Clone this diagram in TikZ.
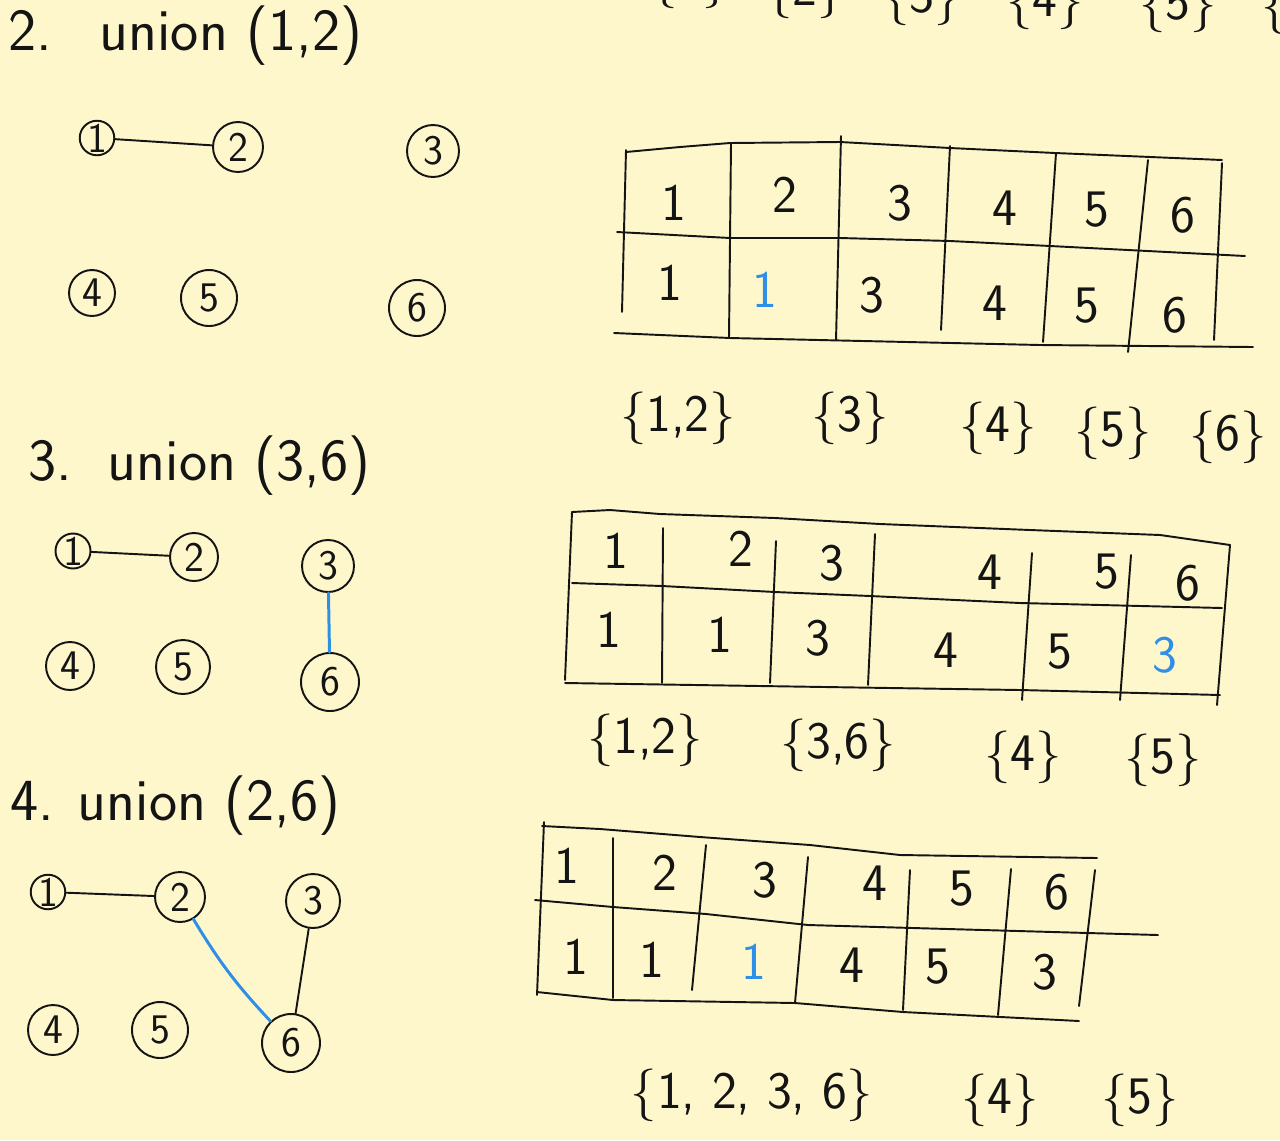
\documentclass[tikz,border=0pt]{standalone}
\usepackage{fontspec}
\definecolor{paper}{HTML}{FFF7CC}
\definecolor{penblue}{HTML}{2F8FE6}
\definecolor{pen}{HTML}{141414}
\begin{document}
\begin{tikzpicture}[x=0.02cm,y=-0.02cm,
  ink/.style={line width=1.1pt, draw=pen, line cap=round, line join=round},
  blueink/.style={line width=1.7pt, draw=penblue, line cap=round},
  vtx/.style={circle, draw=pen, line width=1.1pt, inner sep=0pt, text=pen, font=\sffamily\fontsize{24}{24}\selectfont},
  titletext/.style={anchor=base west, inner sep=0pt, text=pen, font=\sffamily\fontsize{34}{34}\selectfont},
  cell/.style={inner sep=0pt, text=pen, font=\sffamily\fontsize{30}{30}\selectfont},
  setlbl/.style={inner sep=0pt, text=pen, font=\sffamily\fontsize{30}{30}\selectfont}]
\fill[paper] (0,0) rectangle (1280,1140);
\useasboundingbox (0,0) rectangle (1280,1140);

% ---------- cut-off row at the top ----------
\node[setlbl] (t1) at (690,-18) {\{1\}};
\node[setlbl] (t2) at (805,-8) {\{2\}};
\node[setlbl] (t3) at (922,-1) {\{3\}};
\node[setlbl] (t4) at (1045,3) {\{4\}};
\node[setlbl] (t5) at (1178,6) {\{5\}};
\node[setlbl] (t6) at (1300,8) {\{6\}};

% ---------- step 2 ----------
\node[titletext] (title2) at (8,50) {2.\hspace{0.8em}union (1,2)};
\node[vtx, minimum size=0.66cm] (a1) at (97,138) {1};
\node[vtx, minimum size=1.0cm] (a2) at (238,147) {2};
\node[vtx, minimum size=1.04cm] (a3) at (433,151) {3};
\node[vtx, minimum size=0.92cm] (a4) at (92,293) {4};
\node[vtx, minimum size=1.12cm] (a5) at (209,298) {5};
\node[vtx, minimum size=1.12cm] (a6) at (417,308) {6};
\draw[ink] (a1) -- (a2);

% table 1
\draw[ink] (626,152) -- (680,147) -- (730,143) -- (840,142) -- (950,148) -- (1055,153) -- (1222,160);
\draw[ink] (617,232) -- (730,238) -- (840,238) -- (950,241) -- (1050,246) -- (1245,256);
\draw[ink] (614,333) -- (730,338) -- (1040,345) -- (1253,347);
\draw[ink] (626,150) -- (622,312);
\draw[ink] (731,143) -- (729,338);
\draw[ink] (841,136) -- (836,340);
\draw[ink] (950,146) -- (941,330);
\draw[ink] (1056,153) -- (1043,342);
\draw[ink] (1148,160) -- (1128,352);
\draw[ink] (1222,163) -- (1214,340);
\node[cell] (p1a) at (674,203) {1};
\node[cell] (p1b) at (785,195) {2};
\node[cell] (p1c) at (900,203) {3};
\node[cell] (p1d) at (1005,208) {4};
\node[cell] (p1e) at (1097,210) {5};
\node[cell] (p1f) at (1183,215) {6};
\node[cell] (q1a) at (670,283) {1};
\node[cell, text=penblue] (q1b) at (765,290) {1};
\node[cell] (q1c) at (872,295) {3};
\node[cell] (q1d) at (995,303) {4};
\node[cell] (q1e) at (1087,306) {5};
\node[cell] (q1f) at (1175,315) {6};
\node[setlbl] (s1a) at (678,418) {\{1,2\}};
\node[setlbl] (s1b) at (850,418) {\{3\}};
\node[setlbl] (s1c) at (998,428) {\{4\}};
\node[setlbl] (s1d) at (1113,433) {\{5\}};
\node[setlbl] (s1e) at (1228,437) {\{6\}};

% ---------- step 3 ----------
\node[titletext] (title3) at (28,480) {3.\hspace{0.6em}union (3,6)};
\node[vtx, minimum size=0.7cm] (b1) at (73,551) {1};
\node[vtx, minimum size=0.96cm] (b2) at (194,557) {2};
\node[vtx, minimum size=1.04cm] (b3) at (328,566) {3};
\node[vtx, minimum size=0.96cm] (b4) at (70,666) {4};
\node[vtx, minimum size=1.08cm] (b5) at (183,667) {5};
\node[vtx, minimum size=1.16cm] (b6) at (330,682) {6};
\draw[ink] (b1) -- (b2);
\draw[blueink] (b3) -- (b6);

% table 2
\draw[ink] (572,512) -- (610,510) -- (660,514) -- (775,518) -- (880,524) -- (1030,530) -- (1160,535) -- (1230,545);
\draw[ink] (572,583) -- (662,586) -- (775,592) -- (870,596) -- (1020,603) -- (1222,608);
\draw[ink] (565,683) -- (1020,690) -- (1220,695);
\draw[ink] (572,512) -- (565,680);
\draw[ink] (663,528) -- (662,683);
\draw[ink] (776,541) -- (770,683);
\draw[ink] (875,534) -- (868,685);
\draw[ink] (1032,553) -- (1022,700);
\draw[ink] (1131,555) -- (1120,700);
\draw[ink] (1230,545) -- (1217,705);
\node[cell] (p2a) at (616,551) {1};
\node[cell] (p2b) at (741,549) {2};
\node[cell] (p2c) at (832,563) {3};
\node[cell] (p2d) at (990,572) {4};
\node[cell] (p2e) at (1107,572) {5};
\node[cell] (p2f) at (1188,583) {6};
\node[cell] (q2a) at (609,630) {1};
\node[cell] (q2b) at (720,635) {1};
\node[cell] (q2c) at (818,638) {3};
\node[cell] (q2d) at (946,650) {4};
\node[cell] (q2e) at (1060,652) {5};
\node[cell, text=penblue] (q2f) at (1165,655) {3};
\node[setlbl] (s2a) at (645,740) {\{1,2\}};
\node[setlbl] (s2b) at (838,745) {\{3,6\}};
\node[setlbl] (s2c) at (1023,757) {\{4\}};
\node[setlbl] (s2d) at (1163,760) {\{5\}};

% ---------- step 4 ----------
\node[titletext] (title4) at (10,820) {4.\hspace{0.4em}union (2,6)};
\node[vtx, minimum size=0.68cm] (c1) at (48,892) {1};
\node[vtx, minimum size=1.0cm] (c2) at (180,897) {2};
\node[vtx, minimum size=1.08cm] (c3) at (313,901) {3};
\node[vtx, minimum size=1.0cm] (c4) at (53,1030) {4};
\node[vtx, minimum size=1.12cm] (c5) at (160,1030) {5};
\node[vtx, minimum size=1.16cm] (c6) at (291,1043) {6};
\draw[ink] (c1) -- (c2);
\draw[ink] (c3) -- (c6);
\draw[blueink] (c2) to[bend right=6] (c6);

% table 3
\draw[ink] (542,826) -- (600,829) -- (700,837) -- (810,845) -- (900,855) -- (1097,858);
\draw[ink] (535,900) -- (613,907) -- (706,914) -- (808,925) -- (1158,935);
\draw[ink] (537,992) -- (613,1000) -- (795,1003) -- (903,1012) -- (1079,1021);
\draw[ink] (544,822) -- (537,995);
\draw[ink] (613,838) -- (613,998);
\draw[ink] (706,845) -- (692,990);
\draw[ink] (808,857) -- (795,1003);
\draw[ink] (910,870) -- (903,1010);
\draw[ink] (1011,869) -- (998,1015);
\draw[ink] (1095,870) -- (1079,1006);
\node[cell] (p3a) at (567,866) {1};
\node[cell] (p3b) at (665,873) {2};
\node[cell] (p3c) at (765,880) {3};
\node[cell] (p3d) at (875,883) {4};
\node[cell] (p3e) at (962,889) {5};
\node[cell] (p3f) at (1057,892) {6};
\node[cell] (q3a) at (576,957) {1};
\node[cell] (q3b) at (652,960) {1};
\node[cell, text=penblue] (q3c) at (754,962) {1};
\node[cell] (q3d) at (852,965) {4};
\node[cell] (q3e) at (938,967) {5};
\node[cell] (q3f) at (1045,972) {3};
\node[setlbl] (s3a) at (752,1095) {\{1, 2, 3, 6\}};
\node[setlbl] (s3b) at (1000,1100) {\{4\}};
\node[setlbl] (s3c) at (1140,1100) {\{5\}};
\end{tikzpicture}
\end{document}
